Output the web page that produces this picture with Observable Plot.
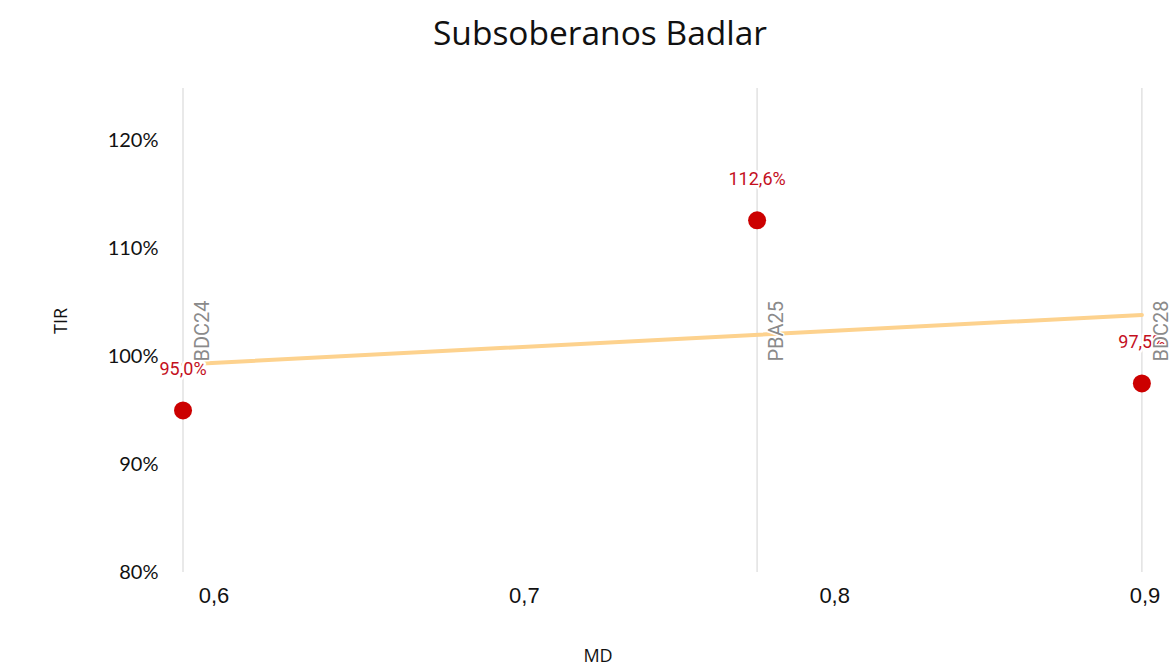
<!DOCTYPE html>
<html>
<head>
<meta charset="utf-8">
<script src="https://cdn.jsdelivr.net/npm/d3@7"></script>
<script src="https://cdn.jsdelivr.net/npm/@observablehq/plot@0.6"></script>
<style>
  html, body { margin: 0; padding: 0; background: #fff; }
  #wrap { width: 1172px; height: 667px; position: relative; overflow: hidden; }
  #title { height: 64px; line-height: 64px; text-align: center; font-family: "Open Sans", sans-serif; font-size: 33.5px; color: #111; padding-left: 28px; box-sizing: border-box; }
</style>
</head>
<body>
<div id="wrap">
  <div id="title">Subsoberanos Badlar</div>
  <div id="chart"></div>
</div>
<script>
const bonds = ["BDC24", "PBA25", "BDC28"];
const md = [0.590, 0.775, 0.899];
const tir = [95.0, 112.6, 97.5];
const tirLabels = ["95,0%", "112,6%", "97,5%"];
const xTicks = [0.6, 0.7, 0.8, 0.9];
const xTickLabels = ["0,6", "0,7", "0,8", "0,9"];
const yTicks = [80, 90, 100, 110, 120];
const yTickLabels = ["80%", "90%", "100%", "110%", "120%"];

const data = bonds.map((b, i) => ({bond: b, md: md[i], tir: tir[i], label: tirLabels[i]}));

const W = 1172, H = 603;
const chart = Plot.plot({
  width: W,
  height: H,
  marginLeft: 167,
  marginRight: 12,
  marginTop: 24,
  marginBottom: 95,
  style: {background: "transparent", overflow: "visible"},
  x: {domain: [0.585, 0.905]},
  y: {domain: [80, 124.8]},
  marks: [
    Plot.ruleX(data, {x: "md", stroke: "#e2e2e2", strokeWidth: 1.5}),
    Plot.linearRegressionY(data, {x: "md", y: "tir", stroke: "#fdd28e", strokeWidth: 4, ci: 0}),
    Plot.dot(data, {x: "md", y: "tir", r: 9, fill: "#cc0000", stroke: "none"}),
    Plot.text(data, {x: "md", y: "tir", text: "label", dy: -41, fill: "#c4101e", fontSize: 18, fontFamily: "Roboto", stroke: "white", strokeWidth: 5, paintOrder: "stroke"}),
    Plot.text(data, {x: "md", text: "bond", frameAnchor: "middle", rotate: -90, textAnchor: "start", lineAnchor: "bottom", dx: 26, dy: 31, fill: "#8a8a8a", fontSize: 20, fontFamily: "Roboto", stroke: "white", strokeWidth: 3, paintOrder: "stroke"}),
    Plot.axisY({ticks: yTicks, tickFormat: (d) => yTickLabels[yTicks.indexOf(d)], tickSize: 0, tickPadding: 9, fontSize: 20, fontFamily: "Lato", fill: "#111", label: null}),
    Plot.axisX({ticks: xTicks, tickFormat: (d) => xTickLabels[xTicks.indexOf(d)], tickSize: 0, tickPadding: 15, fontSize: 22, fontFamily: "Liberation Sans", fill: "#111", label: null})
  ]
});
document.getElementById("chart").appendChild(chart);

const svg = d3.select(chart);
svg.append("text")
  .attr("x", 598).attr("y", 593)
  .attr("text-anchor", "middle").attr("dominant-baseline", "middle")
  .attr("font-family", "Open Sans").attr("font-size", 18).attr("fill", "#111")
  .text("MD");
svg.append("text")
  .attr("transform", "translate(62,257) rotate(-90)")
  .attr("text-anchor", "middle").attr("dominant-baseline", "middle")
  .attr("font-family", "Open Sans").attr("font-size", 18).attr("fill", "#111")
  .text("TIR");
</script>
</body>
</html>
